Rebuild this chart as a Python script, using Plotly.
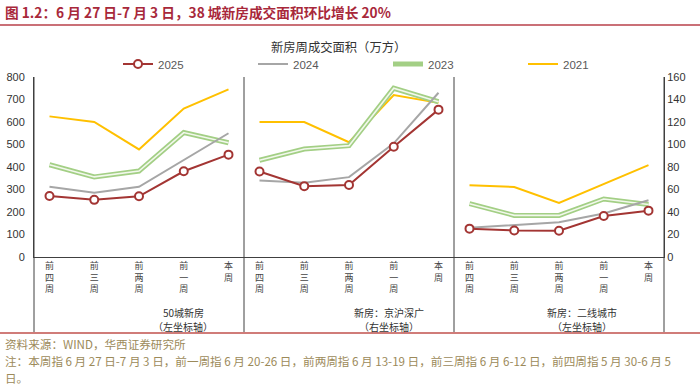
import plotly.graph_objects as go

categories = ["前四周", "前三周", "前两周", "前一周", "本周"]
panels = ["50城新房", "新房：京沪深广", "新房：二线城市"]
panel_axis_notes = ["（左坐标轴）", "（右坐标轴）", "（左坐标轴）"]
series_names = ["2025", "2024", "2023", "2021"]

# panel 1: 50 cities (left axis)
p1_2025 = [271, 254, 270, 381, 455]
p1_2024 = [312, 286, 312, 430, 550]
p1_2023 = [410, 356, 382, 553, 508]
p1_2021 = [625, 600, 478, 660, 745]
# panel 2: tier-1 cities (right axis)
p2_2025 = [76, 63, 64, 98, 131]
p2_2024 = [68, 66, 71, 101, 146]
p2_2023 = [86, 96, 99, 150, 138]
p2_2021 = [120, 120, 102, 144, 137]
# panel 3: tier-2 cities (left axis)
p3_2025 = [126, 118, 117, 182, 206]
p3_2024 = [130, 141, 154, 193, 252]
p3_2023 = [237, 185, 185, 258, 233]
p3_2021 = [319, 311, 240, 323, 408]

left_ticks = [0, 100, 200, 300, 400, 500, 600, 700, 800]
right_ticks = [0, 20, 40, 60, 80, 100, 120, 140, 160]

data = {
    "2025": [p1_2025, p2_2025, p3_2025],
    "2024": [p1_2024, p2_2024, p3_2024],
    "2023": [p1_2023, p2_2023, p3_2023],
    "2021": [p1_2021, p2_2021, p3_2021],
}

CJK = "Noto Sans CJK SC"
LAT = "Liberation Sans, Arial"
C25, C24, C23, C23IN, C21 = "#a33533", "#a6a6a6", "#a3cf85", "#f2f8ec", "#ffc000"
AX = "#404040"

fig = go.Figure()
xrefs = ["x", "x2", "x3"]
yrefs = ["y", "y2", "y"]

draw_order = ["2021", "2023", "2024", "2025"]
rank = {"2025": 1, "2024": 2, "2023": 3, "2021": 4}
for name in draw_order:
    for i in range(3):
        vals = data[name][i]
        show = i == 0
        if name == "2025":
            fig.add_trace(go.Scatter(x=categories, y=vals, xaxis=xrefs[i], yaxis=yrefs[i],
                                     name=name, legendgroup=name, showlegend=show, legendrank=rank[name],
                                     mode="lines+markers",
                                     line=dict(color=C25, width=2),
                                     marker=dict(symbol="circle", size=8, color="white",
                                                 line=dict(color=C25, width=2))))
        elif name == "2023":
            fig.add_trace(go.Scatter(x=categories, y=vals, xaxis=xrefs[i], yaxis=yrefs[i],
                                     name=name, legendgroup=name, showlegend=show, legendrank=rank[name],
                                     mode="lines", line=dict(color=C23, width=5)))
            fig.add_trace(go.Scatter(x=categories, y=vals, xaxis=xrefs[i], yaxis=yrefs[i],
                                     name=name, legendgroup=name, showlegend=False,
                                     mode="lines", line=dict(color=C23IN, width=1.6), hoverinfo="skip"))
        else:
            color = C24 if name == "2024" else C21
            fig.add_trace(go.Scatter(x=categories, y=vals, xaxis=xrefs[i], yaxis=yrefs[i],
                                     name=name, legendgroup=name, showlegend=show, legendrank=rank[name],
                                     mode="lines", line=dict(color=color, width=2)))

vert = ["<br>".join(c) for c in categories]
xcommon = dict(type="category", categoryorder="array", categoryarray=categories,
               tickvals=categories, ticktext=vert, showgrid=False, zeroline=False,
               showline=True, linecolor=AX, linewidth=1, ticks="", automargin=False,
               tickfont=dict(family=CJK, size=9, color="#444"), anchor="y", fixedrange=True)
fig.update_layout(
    xaxis=dict(domain=[0, 1/3], **xcommon),
    xaxis2=dict(domain=[1/3, 2/3], **xcommon),
    xaxis3=dict(domain=[2/3, 1], **xcommon),
    yaxis=dict(range=[0, 800], tickvals=left_ticks, showgrid=False, zeroline=False,
               showline=True, linecolor=AX, ticks="", anchor="x", side="left",
               ticklabelstandoff=6, automargin=False,
               tickfont=dict(family=LAT, size=11, color="#333")),
    yaxis2=dict(range=[0, 160], tickvals=right_ticks, showgrid=False, zeroline=False,
                showline=True, linecolor=AX, ticks="", anchor="x3", side="right",
                overlaying="y", automargin=False,
                tickfont=dict(family=LAT, size=11, color="#333")),
)

H, W = 386, 700
ml, mr, mt, mb = 34, 36, 77, 129
pw, ph = W - ml - mr, H - mt - mb

def px(x):
    return (x - ml) / pw

def py(y):
    return (H - mb - y) / ph

shapes = []
for xp in [0, 1/3, 2/3, 1]:
    shapes.append(dict(type="line", xref="paper", yref="paper", x0=xp, x1=xp,
                       y0=py(332), y1=1, line=dict(color=AX, width=1)))
shapes.append(dict(type="line", xref="paper", yref="paper", x0=px(0), x1=px(700),
                   y0=py(25), y1=py(25), line=dict(color="#b8404a", width=1.5)))
shapes.append(dict(type="line", xref="paper", yref="paper", x0=px(0), x1=px(700),
                   y0=py(333), y1=py(333), line=dict(color="#c0504d", width=1.5)))

FOOT = dict(family=CJK, size=11.6, color="#9c8a5a")
annotations = [
    dict(text="图 1.2：6 月 27 日-7 月 3 日，38 城新房成交面积环比增长 20%",
         x=px(3), y=py(12), xref="paper", yref="paper", xanchor="left", yanchor="middle",
         showarrow=False, font=dict(family=CJK, size=13.7, color="#a8283a", weight="bold")),
    dict(text="新房周成交面积（万方）", x=px(338), y=py(47), xref="paper", yref="paper",
         xanchor="center", yanchor="middle", showarrow=False,
         font=dict(family=CJK, size=12.3, color="#333")),
    dict(text="资料来源：WIND，华西证券研究所", x=px(3), y=py(344), xref="paper", yref="paper",
         xanchor="left", yanchor="middle", showarrow=False, font=FOOT),
    dict(text="注：本周指 6 月 27 日-7 月 3 日，前一周指 6 月 20-26 日，前两周指 6 月 13-19 日，前三周指 6 月 6-12 日，前四周指 5 月 30-6 月 5",
         x=px(3), y=py(361), xref="paper", yref="paper",
         xanchor="left", yanchor="middle", showarrow=False, font=FOOT),
    dict(text="日。", x=px(3), y=py(378), xref="paper", yref="paper",
         xanchor="left", yanchor="middle", showarrow=False, font=FOOT),
]
centers = [183, 389, 582]
for c, p, n in zip(centers, panels, panel_axis_notes):
    annotations.append(dict(text=p, x=px(c), y=py(312), xref="paper", yref="paper",
                            xanchor="center", yanchor="middle", showarrow=False,
                            font=dict(family=CJK, size=10, color="#333")))
    annotations.append(dict(text=n, x=px(c), y=py(326), xref="paper", yref="paper",
                            xanchor="center", yanchor="middle", showarrow=False,
                            font=dict(family=CJK, size=10, color="#333")))

fig.update_layout(
    width=W, height=H, margin=dict(l=ml, r=mr, t=mt, b=mb, autoexpand=False),
    paper_bgcolor="white", plot_bgcolor="white",
    shapes=shapes, annotations=annotations,
    showlegend=True,
    legend=dict(orientation="h", x=px(118), y=py(64), xanchor="left", yanchor="middle",
                entrywidth=90, entrywidthmode="pixels", traceorder="normal",
                font=dict(family=LAT, size=11.5, color="#595959"), bgcolor="rgba(0,0,0,0)"),
    hovermode=False,
)

fig.write_html("out.html", config={"displayModeBar": False},
               post_script="document.body.style.margin='0';document.body.style.overflow='hidden';")
